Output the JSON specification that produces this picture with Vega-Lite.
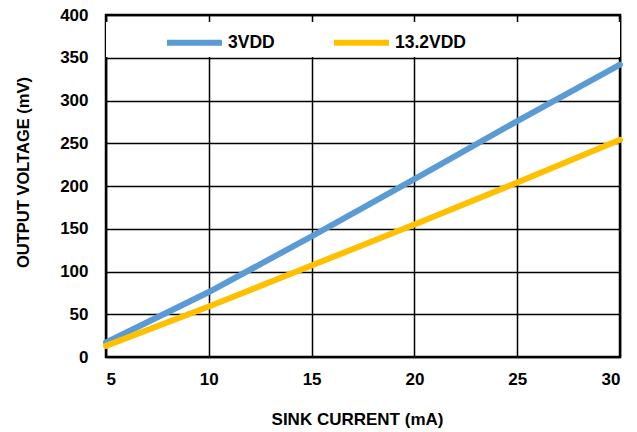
{
  "$schema": "https://vega.github.io/schema/vega-lite/v6.json",
  "width": 514,
  "height": 342,
  "autosize": {"type": "none"},
  "padding": {"left": 106, "top": 15, "right": 17, "bottom": 75},
  "background": "white",
  "config": {
    "view": {"stroke": "black", "strokeWidth": 2.5},
    "font": "Liberation Sans",
    "axis": {
      "domain": false,
      "ticks": false,
      "grid": true,
      "gridColor": "black",
      "gridWidth": 1.5,
      "gridOpacity": 1,
      "labelFont": "Liberation Sans",
      "labelFontSize": 17,
      "labelFontWeight": "bold",
      "labelColor": "black",
      "titleFont": "Liberation Sans",
      "titleFontWeight": "bold",
      "titleColor": "black"
    }
  },
  "data": {
    "values": [
      {"current": 5, "voltage": 17, "series": "3VDD"},
      {"current": 10, "voltage": 76, "series": "3VDD"},
      {"current": 15, "voltage": 141, "series": "3VDD"},
      {"current": 20, "voltage": 208, "series": "3VDD"},
      {"current": 25, "voltage": 276, "series": "3VDD"},
      {"current": 30, "voltage": 342, "series": "3VDD"},
      {"current": 5, "voltage": 13, "series": "13.2VDD"},
      {"current": 10, "voltage": 59, "series": "13.2VDD"},
      {"current": 15, "voltage": 107, "series": "13.2VDD"},
      {"current": 20, "voltage": 155, "series": "13.2VDD"},
      {"current": 25, "voltage": 204, "series": "13.2VDD"},
      {"current": 30, "voltage": 254, "series": "13.2VDD"}
    ]
  },
  "layer": [
    {
      "mark": {"type": "rect", "color": "white"},
      "encoding": {
        "x": {"datum": 5, "type": "quantitative"},
        "x2": {"datum": 30},
        "y": {"datum": 351.5, "type": "quantitative"},
        "y2": {"datum": 391.5}
      }
    },
    {
      "mark": {"type": "line", "strokeWidth": 6, "strokeCap": "round"},
      "encoding": {
        "x": {
          "field": "current",
          "type": "quantitative",
          "scale": {"domain": [5, 30], "nice": false, "zero": false},
          "axis": {"values": [5, 10, 15, 20, 25, 30], "title": "SINK CURRENT (mA)", "titleFontSize": 17, "labelPadding": 14, "titlePadding": 24, "titleX": 251}
        },
        "y": {
          "field": "voltage",
          "type": "quantitative",
          "scale": {"domain": [0, 400], "nice": false},
          "axis": {"values": [0, 50, 100, 150, 200, 250, 300, 350, 400], "title": "OUTPUT VOLTAGE (mV)", "titleFontSize": 16.5, "labelPadding": 18, "titlePadding": 28, "titleY": 157}
        },
        "color": {
          "field": "series",
          "type": "nominal",
          "sort": ["3VDD", "13.2VDD"],
          "scale": {"domain": ["3VDD", "13.2VDD"], "range": ["#5B9BD5", "#FFC000"]},
          "legend": {
            "title": null,
            "orient": "none",
            "direction": "horizontal",
            "legendX": 58,
            "legendY": -3,
            "symbolType": "stroke",
            "symbolSize": 3025,
            "symbolStrokeWidth": 6,
            "labelFont": "Liberation Sans",
            "labelFontSize": 17.5,
            "labelFontWeight": "bold",
            "labelColor": "black",
            "labelOffset": 3,
            "columnPadding": 47
          }
        }
      }
    }
  ]
}
